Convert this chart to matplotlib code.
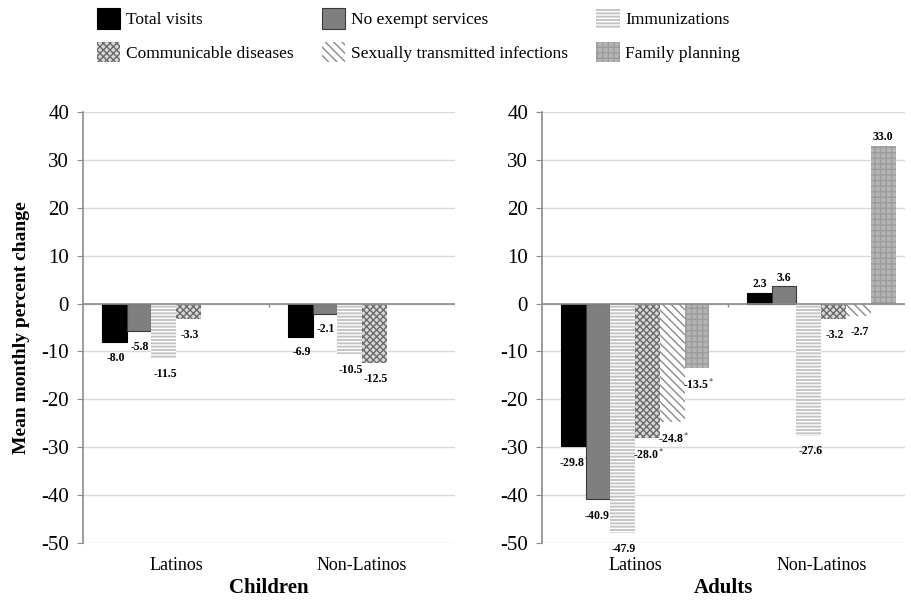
import matplotlib
matplotlib.use("Agg")
import matplotlib.pyplot as plt
import numpy as np

plt.rcParams['font.family'] = ['Liberation Serif', 'DejaVu Serif']
plt.rcParams['mathtext.fontset'] = 'stix'
plt.rcParams['axes.unicode_minus'] = False
plt.rcParams['hatch.linewidth'] = 1.0

categories = ["Latinos", "Non-Latinos"]
series = ["Total visits", "No exempt services", "Immunizations",
          "Communicable diseases", "Sexually transmitted infections", "Family planning"]

children_values = [
    [-8.0, -6.9],
    [-5.8, -2.1],
    [-11.5, -10.5],
    [-3.3, -12.5],
    [np.nan, np.nan],
    [np.nan, np.nan],
]
children_labels = [
    ["-8.0", "-6.9"],
    ["-5.8", "-2.1"],
    ["-11.5", "-10.5"],
    ["-3.3", "-12.5"],
    ["", ""],
    ["", ""],
]
adults_values = [
    [-29.8, 2.3],
    [-40.9, 3.6],
    [-47.9, -27.6],
    [-28.0, -3.2],
    [-24.8, -2.7],
    [-13.5, 33.0],
]
adults_labels = [
    ["-29.8$^*$", "2.3"],
    ["-40.9$^*$", "3.6"],
    ["-47.9", "-27.6"],
    ["-28.0$^*$", "-3.2"],
    ["-24.8$^*$", "-2.7"],
    ["-13.5$^*$", "33.0"],
]
yticks = [40, 30, 20, 10, 0, -10, -20, -30, -40, -50]

styles = [
    dict(facecolor="#000000", edgecolor="#000000", hatch=None, linewidth=0.8),
    dict(facecolor="#7f7f7f", edgecolor="#3a3a3a", hatch=None, linewidth=0.8),
    dict(facecolor="#c4c4c4", edgecolor="#ffffff", hatch="-----", linewidth=0),
    dict(facecolor="#d8d8d8", edgecolor="#6a6a6a", hatch="xxxxx", linewidth=0),
    dict(facecolor="#ffffff", edgecolor="#8a8a8a", hatch="\\\\\\\\", linewidth=0),
    dict(facecolor="#b4b4b4", edgecolor="#9c9c9c", hatch="+++", linewidth=0),
]

fig = plt.figure(figsize=(9.11, 6.09), dpi=100)
ax1 = fig.add_axes([83/911, 1-543/609, 372/911, 431/609])
ax2 = fig.add_axes([542/911, 1-543/609, 363/911, 431/609])

bw = 0.133
x = np.arange(len(categories))

def draw(ax, values, labels, xlim, title):
    hs = []
    for i, (vals, labs) in enumerate(zip(values, labels)):
        pos = x - 2.5*bw + i*bw
        b = ax.bar(pos, vals, width=bw, zorder=3, **styles[i])
        hs.append(b)
        for p, v, lab in zip(pos, vals, labs):
            if lab == "" or np.isnan(v):
                continue
            if v >= 0:
                ax.annotate(lab, (p, v), xytext=(0, 2), textcoords="offset points",
                            ha="center", va="bottom", fontsize=8.5, fontweight="bold")
            else:
                ax.annotate(lab, (p, v), xytext=(1, -7), textcoords="offset points",
                            ha="center", va="top", fontsize=8.5, fontweight="bold")
    ax.set_ylim(-50, 40)
    ax.set_xlim(*xlim)
    ax.set_yticks(yticks)
    ax.yaxis.grid(True, color="#d9d9d9", linewidth=1.0, zorder=0)
    ax.set_axisbelow(True)
    ax.axhline(0, color="#8c8c8c", linewidth=1.2, zorder=4)
    ax.vlines([0.5, 1.5], -0.8, 0, color="#8c8c8c", linewidth=1.0, zorder=4)
    for s in ["top", "right", "bottom"]:
        ax.spines[s].set_visible(False)
    ax.spines["left"].set_color("#8c8c8c")
    ax.spines["left"].set_linewidth(1.2)
    ax.tick_params(axis="y", direction="out", length=4, color="#8c8c8c",
                   labelsize=15, pad=6)
    ax.set_xticks(x)
    ax.set_xticklabels(categories)
    ax.tick_params(axis="x", length=0, labelsize=13, pad=10)
    ax.set_xlabel(title, fontsize=15, fontweight="bold", labelpad=3)
    return hs

handles = draw(ax1, children_values, children_labels, (-0.5, 1.5), "Children")
handles2 = draw(ax2, adults_values, adults_labels, (-0.5, 1.45), "Adults")
ax1.set_ylabel("Mean monthly percent change", fontsize=14, fontweight="bold", labelpad=8)

order = [0, 3, 1, 4, 2, 5]
leg = fig.legend([handles2[i] for i in order], [series[i] for i in order],
                 ncol=3, loc="upper left", bbox_to_anchor=(97/911, 1-8/609),
                 frameon=False, fontsize=12.5, handlelength=1.35, handleheight=1.45,
                 columnspacing=1.65, handletextpad=0.3, labelspacing=0.75,
                 borderaxespad=0, borderpad=0)

fig.savefig("out.png", dpi=100)
